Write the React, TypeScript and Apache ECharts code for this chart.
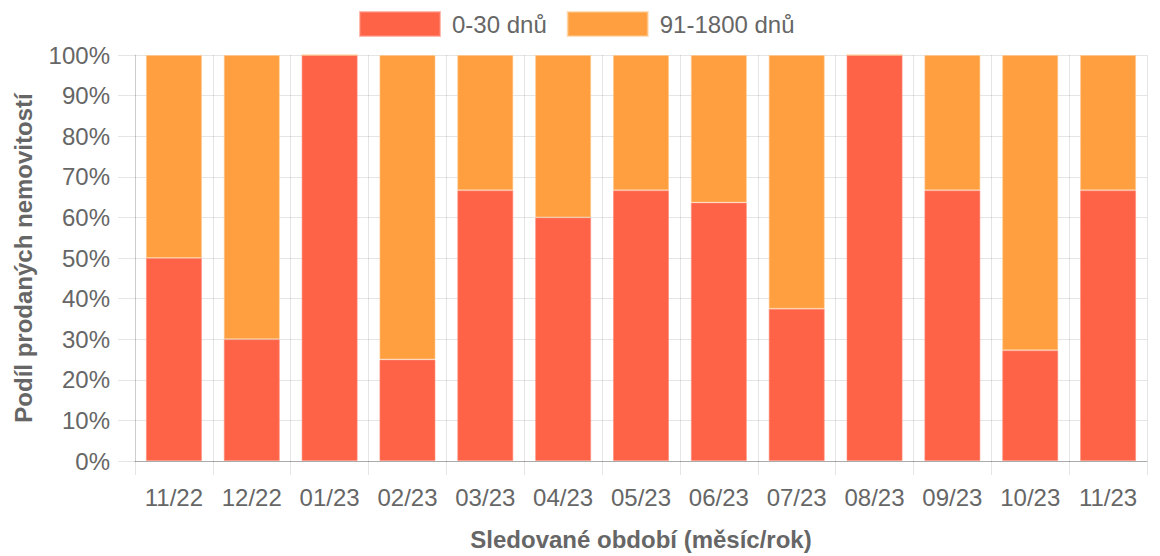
import React, { useEffect, useRef } from "react";
import * as echarts from "echarts";

const categories = ["11/22", "12/22", "01/23", "02/23", "03/23", "04/23", "05/23", "06/23", "07/23", "08/23", "09/23", "10/23", "11/23"];
const short = [50, 30, 100, 25, 66.67, 60, 66.67, 63.64, 37.5, 100, 66.67, 27.27, 66.67];
const long = [50, 70, 0, 75, 33.33, 40, 33.33, 36.36, 62.5, 0, 33.33, 72.73, 33.33];
const yTicks = [0, 10, 20, 30, 40, 50, 60, 70, 80, 90, 100];

const FONT = "'Liberation Sans', Arial, Helvetica, sans-serif";
const TEXT = "#666";
const GRID = "rgba(0,0,0,0.1)";
const FS = 24;

export default function App() {
  const ref = useRef<HTMLDivElement>(null);
  useEffect(() => {
    if (!ref.current) return;
    const chart = echarts.init(ref.current, undefined, { renderer: "svg" });
    chart.setOption({
      animation: false,
      textStyle: { fontFamily: FONT },
      legend: {
        top: 6,
        left: 354,
        itemWidth: 80,
        itemHeight: 24,
        itemGap: 20,
        icon: "rect",
        textStyle: { fontSize: FS, color: TEXT, fontFamily: FONT, padding: [0, 0, 0, 7] },
        data: ["0-30 dnů", "91-1800 dnů"],
      },
      grid: { left: 135, right: 13, top: 55, bottom: 89, containLabel: false },
      xAxis: {
        type: "category",
        data: categories,
        boundaryGap: true,
        name: "Sledované období (měsíc/rok)",
        nameLocation: "middle",
        nameGap: 66,
        nameTextStyle: { fontSize: FS, fontWeight: "bold", color: TEXT, fontFamily: FONT },
        axisLine: { show: true, lineStyle: { color: "rgba(0,0,0,0.25)", width: 1 } },
        axisTick: { show: true, interval: 0, length: 14, lineStyle: { color: GRID } },
        axisLabel: { interval: 0, fontSize: FS, color: TEXT, margin: 24, fontFamily: FONT },
        splitLine: { show: true, interval: 0, lineStyle: { color: GRID } },
      },
      yAxis: {
        type: "value",
        min: 0,
        max: 100,
        interval: 10,
        name: "Podíl prodaných nemovitostí",
        nameLocation: "middle",
        nameGap: 100,
        nameTextStyle: { fontSize: FS, fontWeight: "bold", color: TEXT, fontFamily: FONT },
        axisLine: { show: true, lineStyle: { color: GRID } },
        axisTick: { show: true, length: 17, lineStyle: { color: GRID } },
        axisLabel: {
          fontSize: FS,
          color: TEXT,
          margin: 25,
          fontFamily: FONT,
          formatter: (v: number) => (yTicks.includes(v) ? v + "%" : ""),
        },
        splitLine: { show: true, lineStyle: { color: GRID } },
      },
      series: [
        {
          name: "0-30 dnů",
          type: "bar",
          stack: "total",
          data: short,
          barCategoryGap: "28%",
          itemStyle: { color: "#ff6347", borderColor: "rgba(255,140,120,0.6)", borderWidth: 1 },
        },
        {
          name: "91-1800 dnů",
          type: "bar",
          stack: "total",
          data: long,
          barCategoryGap: "28%",
          itemStyle: { color: "#ff9f40", borderColor: "rgba(255,200,140,0.6)", borderWidth: 1 },
        },
      ],
    });
    return () => chart.dispose();
  }, []);
  return <div ref={ref} style={{ width: 1160, height: 556, position: "absolute", left: 0, top: 0 }} />;
}
